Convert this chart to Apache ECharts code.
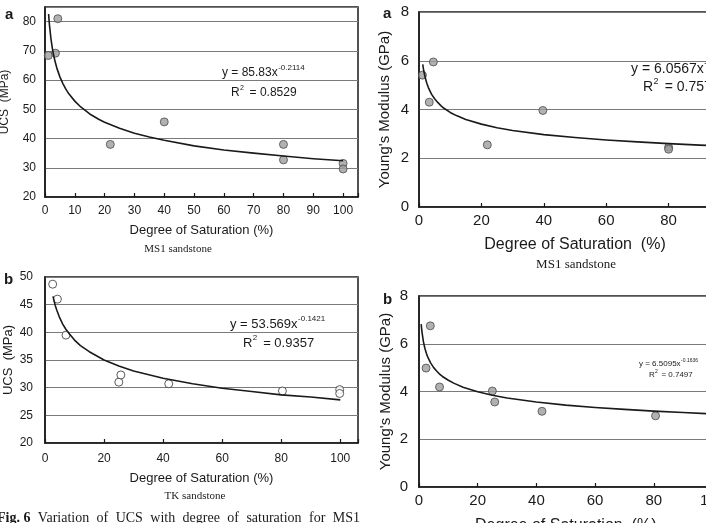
<!doctype html>
<html>
<head>
<meta charset="utf-8">
<title>UCS and Young's modulus vs degree of saturation</title>
<script src="https://cdn.jsdelivr.net/npm/echarts@6/dist/echarts.min.js"></script>
<style>
  html, body { margin: 0; padding: 0; background: #fff; }
  #container { width: 706px; height: 523px; }
</style>
</head>
<body>
<div id="container"></div>
<script type="text/javascript">
    // MS1 sandstone - UCS (MPa) vs saturation (%)
    var ms1UcsPoints = [[1.1, 68.4], [3.5, 69.2], [4.3, 81.0], [21.9, 38.0], [40.0, 45.7],
        [80.0, 38.0], [80.0, 32.7], [100, 31.5], [100, 29.6]];
    var ms1UcsFit = [[1.2, 82.6], [1.5, 78.8], [2, 74.1], [2.5, 70.7], [3, 68.0], [3.5, 65.9], [4, 64.0],
        [5, 61.1], [6, 58.8], [7, 56.9], [8, 55.3], [10, 52.8], [12, 50.8], [15, 48.4], [18, 46.6],
        [20, 45.6], [25, 43.5], [30, 41.8], [35, 40.5], [40, 39.4], [50, 37.5], [60, 36.1],
        [70, 35.0], [80, 34.0], [90, 33.1], [100, 32.4]];

    // MS1 sandstone - Young's modulus (GPa)
    var ms1EPoints = [[1.1, 5.41], [4.6, 5.95], [3.3, 4.3], [21.9, 2.55], [39.7, 3.96],
        [80, 2.45], [80, 2.37]];
    var ms1EFit = [[1.2, 5.85], [1.5, 5.60], [2, 5.30], [2.5, 5.08], [3, 4.90], [4, 4.63], [5, 4.44],
        [6, 4.29], [7, 4.16], [8, 4.05], [10, 3.88], [12, 3.75], [15, 3.59], [20, 3.40], [25, 3.25],
        [30, 3.14], [40, 2.97], [50, 2.85], [60, 2.75], [70, 2.67], [80, 2.60], [90, 2.54], [100, 2.49]];

    // TK sandstone - UCS (MPa)
    var tkUcsPoints = [[2.6, 48.7], [4.2, 46.0], [7.1, 39.5], [25.0, 31.0], [25.7, 32.3],
        [41.9, 30.7], [80.4, 29.4], [99.8, 29.65], [99.8, 28.95]];
    var tkUcsFit = [[2.7, 46.5], [3.5, 44.8], [4, 44.0], [5, 42.6], [6, 41.5], [7, 40.6], [8, 39.9],
        [10, 38.6], [12, 37.6], [15, 36.5], [20, 35.0], [25, 33.9], [30, 33.0], [40, 31.7],
        [50, 30.7], [60, 29.9], [70, 29.3], [80, 28.7], [90, 28.3], [100, 27.8]];

    // TK sandstone - Young's modulus (GPa)
    var tkEPoints = [[2.4, 4.98], [3.85, 6.75], [7.0, 4.19], [25.0, 4.02], [25.8, 3.56],
        [41.9, 3.17], [80.6, 2.98]];
    var tkEFit = [[0.75, 6.82], [0.85, 6.68], [1, 6.51], [1.5, 6.09], [2, 5.81], [2.5, 5.60], [3, 5.44],
        [4, 5.19], [5, 5.00], [6, 4.86], [7, 4.73], [8, 4.63], [10, 4.47], [12, 4.34], [15, 4.18],
        [20, 3.99], [25, 3.84], [30, 3.73], [40, 3.56], [50, 3.43], [60, 3.33], [70, 3.25],
        [80, 3.18], [90, 3.12], [100, 3.06]];

    var sans = '"Liberation Sans", Arial, sans-serif';
    var serif = '"Liberation Serif", "Times New Roman", serif';
    var ink = '#1a1a1a';

    var measureCtx = document.createElement('canvas').getContext('2d');
    function textWidth(txt, font) {
        measureCtx.font = font;
        return measureCtx.measureText(txt).width;
    }

    // 方程式文字（带上标）
    function equation(x, y, base, sup, size, supSize) {
        var font = size + 'px ' + sans;
        var w = textWidth(base, font);
        return [
            { type: 'text', x: x, y: y, style: { text: base, font: font, fill: ink, verticalAlign: 'middle' } },
            { type: 'text', x: x + w + 0.5, y: y - size * 0.42, style: { text: sup, font: supSize + 'px ' + sans, fill: ink, verticalAlign: 'middle' } }
        ];
    }
    function rsq(x, y, value, size) {
        var font = size + 'px ' + sans;
        var w = textWidth('R', font);
        return [
            { type: 'text', x: x, y: y, style: { text: 'R', font: font, fill: ink, verticalAlign: 'middle' } },
            { type: 'text', x: x + w + 0.3, y: y - size * 0.42, style: { text: '2', font: Math.round(size * 0.62) + 'px ' + sans, fill: ink, verticalAlign: 'middle' } },
            { type: 'text', x: x + w + size * 0.55, y: y, style: { text: ' = ' + value, font: font, fill: ink, verticalAlign: 'middle' } }
        ];
    }

    function xAxis(gi, max, interval, step, fs, margin, gap, name) {
        return {
            gridIndex: gi, type: 'value', min: 0, max: max, interval: interval,
            name: name, nameLocation: 'middle', nameGap: gap,
            nameTextStyle: { fontFamily: sans, fontSize: fs + 1, color: ink },
            axisLine: { show: true, onZero: false, lineStyle: { color: ink, width: 1.5 } },
            axisTick: { show: true, inside: true, length: 4, lineStyle: { color: ink, width: 1.2 } },
            axisLabel: {
                fontFamily: sans, fontSize: fs, color: ink, margin: margin,
                formatter: function (v) { return (v % step === 0 && v <= 100) ? v : ''; }
            },
            splitLine: { show: false }
        };
    }
    function yAxis(gi, min, max, interval, top, fs, margin, gap, name, nameFs) {
        return {
            gridIndex: gi, type: 'value', min: min, max: max, interval: interval,
            name: name, nameLocation: 'middle', nameGap: gap,
            nameTextStyle: { fontFamily: sans, fontSize: nameFs, color: ink },
            axisLine: { show: true, onZero: false, lineStyle: { color: ink, width: 1.5 } },
            axisTick: { show: false },
            axisLabel: {
                fontFamily: sans, fontSize: fs, color: ink, margin: margin,
                formatter: function (v) { return v <= top ? v : ''; }
            },
            splitLine: { show: true, lineStyle: { color: '#7a7a7a', width: 1 } }
        };
    }
    function grid(left, top, width, height) {
        return { left: left, top: top, width: width, height: height, show: true,
            outerBoundsMode: 'none', containLabel: false,
            borderColor: ink, borderWidth: 1.5, backgroundColor: 'transparent' };
    }
    var filled = { color: '#9d9d9d', borderColor: '#4a4a4a', borderWidth: 1 };
    var hollow = { color: '#ffffff', borderColor: '#333333', borderWidth: 1 };
    function pts(i, data, style) {
        return { type: 'scatter', xAxisIndex: i, yAxisIndex: i, data: data, symbolSize: 8, itemStyle: style, z: 3 };
    }
    function fit(i, data) {
        return { type: 'line', xAxisIndex: i, yAxisIndex: i, data: data, showSymbol: false, smooth: false,
            lineStyle: { color: ink, width: 1.6, join: 'round' }, silent: true, z: 4 };
    }

    // 图注，两端对齐
    var captionWords = ['Fig. 6', 'Variation', 'of', 'UCS', 'with', 'degree', 'of', 'saturation', 'for', 'MS1'];
    var capSize = 14, capLeft = -3, capRight = 360, capY = 518;
    var capFonts = captionWords.map(function (w, i) { return (i === 0 ? 'bold ' : '') + capSize + 'px ' + serif; });
    var capWidths = captionWords.map(function (w, i) { return textWidth(w, capFonts[i]); });
    var capTotal = capWidths.reduce(function (a, b) { return a + b; }, 0);
    var capGap = (capRight - capLeft - capTotal) / (captionWords.length - 1);
    var captionEls = [];
    var cx = capLeft;
    for (var i = 0; i < captionWords.length; i++) {
        captionEls.push({ type: 'text', x: cx, y: capY, style: { text: captionWords[i], font: capFonts[i], fill: ink, verticalAlign: 'middle' } });
        cx += capWidths[i] + capGap;
    }

    var graphics = [
        { type: 'text', x: 5, y: 15, style: { text: 'a', font: 'bold 15px ' + sans, fill: ink, verticalAlign: 'middle' } },
        { type: 'text', x: 383, y: 14, style: { text: 'a', font: 'bold 15px ' + sans, fill: ink, verticalAlign: 'middle' } },
        { type: 'text', x: 4, y: 280, style: { text: 'b', font: 'bold 15px ' + sans, fill: ink, verticalAlign: 'middle' } },
        { type: 'text', x: 383, y: 300, style: { text: 'b', font: 'bold 15px ' + sans, fill: ink, verticalAlign: 'middle' } },
        { type: 'text', x: 178, y: 249, style: { text: 'MS1 sandstone', font: '11px ' + serif, fill: ink, align: 'center', verticalAlign: 'middle' } },
        { type: 'text', x: 576, y: 265, style: { text: 'MS1 sandstone', font: '13px ' + serif, fill: ink, align: 'center', verticalAlign: 'middle' } },
        { type: 'text', x: 195, y: 496, style: { text: 'TK sandstone', font: '11px ' + serif, fill: ink, align: 'center', verticalAlign: 'middle' } }
    ]
        .concat(equation(222, 73, 'y = 85.83x', '-0.2114', 12, 8))
        .concat(rsq(231, 93, '0.8529', 12))
        .concat(equation(631, 69, 'y = 6.0567x', '-0.1', 14, 9))
        .concat(rsq(643, 87, '0.7575', 14))
        .concat(equation(230, 324, 'y = 53.569x', '-0.1421', 13, 8))
        .concat(rsq(243, 343, '0.9357', 13))
        .concat(equation(639, 364, 'y = 6.5095x', '-0.1636', 8, 5))
        .concat(rsq(649, 375, '0.7497', 8))
        .concat(captionEls);

    var option = {
        animation: false,
        backgroundColor: '#ffffff',
        grid: [
            grid(45, 7, 313, 190),
            grid(419, 12, 312, 195),
            grid(45, 277, 313, 166),
            grid(419, 296, 293.5, 191)
        ],
        xAxis: [
            xAxis(0, 105, 10, 10, 12, 8, 27, 'Degree of Saturation (%)'),
            xAxis(1, 100, 20, 20, 15, 6, 30, 'Degree of Saturation  (%)'),
            xAxis(2, 106, 20, 20, 12, 10, 29, 'Degree of Saturation (%)'),
            xAxis(3, 100, 20, 20, 15, 6, 31, 'Degree of Saturation  (%)')
        ],
        yAxis: [
            yAxis(0, 20, 85, 10, 80, 12, 9, 34, 'UCS  (MPa)', 12),
            yAxis(1, 0, 8, 2, 8, 15, 10, 27, "Young's Modulus (GPa)", 15),
            yAxis(2, 20, 50, 5, 50, 12, 12, 30, 'UCS  (MPa)', 13),
            yAxis(3, 0, 8, 2, 8, 15, 11, 26, "Young's Modulus (GPa)", 15)
        ],
        series: [
            pts(0, ms1UcsPoints, filled), fit(0, ms1UcsFit),
            pts(1, ms1EPoints, filled), fit(1, ms1EFit),
            pts(2, tkUcsPoints, hollow), fit(2, tkUcsFit),
            pts(3, tkEPoints, filled), fit(3, tkEFit)
        ],
        graphic: graphics
    };

    var myChart = echarts.init(document.getElementById('container'));
    myChart.setOption(option);
</script>
</body>
</html>
